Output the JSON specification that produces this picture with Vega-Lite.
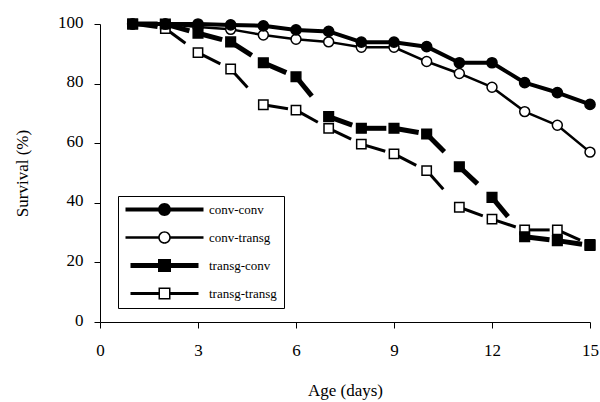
{
  "$schema": "https://vega.github.io/schema/vega-lite/v6.json",
  "width": 490,
  "height": 298,
  "autosize": {"type": "none"},
  "padding": {"left": 100, "top": 24, "right": 10, "bottom": 80},
  "background": "white",
  "config": {
    "view": {"stroke": null},
    "font": "Liberation Serif",
    "axis": {
      "grid": false, "domainColor": "black", "tickColor": "black", "labelColor": "black", "titleColor": "black",
      "labelFont": "Liberation Serif", "titleFont": "Liberation Serif", "labelFontSize": 17, "titleFontSize": 17,
      "titleFontWeight": "normal", "tickSize": 6, "domainWidth": 1, "tickWidth": 1
    }
  },
  "data": {"values": [
    {"series": "transg-transg", "day": 1, "survival": 100},
    {"series": "transg-transg", "day": 2, "survival": 98.5},
    {"series": "transg-transg", "day": 3, "survival": 90.4},
    {"series": "transg-transg", "day": 4, "survival": 84.9},
    {"series": "transg-transg", "day": 5, "survival": 72.9},
    {"series": "transg-transg", "day": 6, "survival": 71.1},
    {"series": "transg-transg", "day": 7, "survival": 65},
    {"series": "transg-transg", "day": 8, "survival": 59.7},
    {"series": "transg-transg", "day": 9, "survival": 56.4},
    {"series": "transg-transg", "day": 10, "survival": 50.8},
    {"series": "transg-transg", "day": 11, "survival": 38.5},
    {"series": "transg-transg", "day": 12, "survival": 34.5},
    {"series": "transg-transg", "day": 13, "survival": 30.9},
    {"series": "transg-transg", "day": 14, "survival": 30.9},
    {"series": "transg-transg", "day": 15, "survival": 26},
    {"series": "conv-transg", "day": 1, "survival": 100},
    {"series": "conv-transg", "day": 2, "survival": 100},
    {"series": "conv-transg", "day": 3, "survival": 99},
    {"series": "conv-transg", "day": 4, "survival": 98.2},
    {"series": "conv-transg", "day": 5, "survival": 96.3},
    {"series": "conv-transg", "day": 6, "survival": 94.9},
    {"series": "conv-transg", "day": 7, "survival": 94},
    {"series": "conv-transg", "day": 8, "survival": 92.2},
    {"series": "conv-transg", "day": 9, "survival": 92.2},
    {"series": "conv-transg", "day": 10, "survival": 87.4},
    {"series": "conv-transg", "day": 11, "survival": 83.4},
    {"series": "conv-transg", "day": 12, "survival": 78.8},
    {"series": "conv-transg", "day": 13, "survival": 70.6},
    {"series": "conv-transg", "day": 14, "survival": 66},
    {"series": "conv-transg", "day": 15, "survival": 57},
    {"series": "transg-conv", "day": 1, "survival": 100},
    {"series": "transg-conv", "day": 2, "survival": 100},
    {"series": "transg-conv", "day": 3, "survival": 96.9},
    {"series": "transg-conv", "day": 4, "survival": 94},
    {"series": "transg-conv", "day": 5, "survival": 87},
    {"series": "transg-conv", "day": 6, "survival": 82.3},
    {"series": "transg-conv", "day": 7, "survival": 68.9},
    {"series": "transg-conv", "day": 8, "survival": 65},
    {"series": "transg-conv", "day": 9, "survival": 65},
    {"series": "transg-conv", "day": 10, "survival": 63.1},
    {"series": "transg-conv", "day": 11, "survival": 52.1},
    {"series": "transg-conv", "day": 12, "survival": 41.8},
    {"series": "transg-conv", "day": 13, "survival": 28.6},
    {"series": "transg-conv", "day": 14, "survival": 27.3},
    {"series": "transg-conv", "day": 15, "survival": 25.7},
    {"series": "conv-conv", "day": 1, "survival": 100},
    {"series": "conv-conv", "day": 2, "survival": 100},
    {"series": "conv-conv", "day": 3, "survival": 100},
    {"series": "conv-conv", "day": 4, "survival": 99.7},
    {"series": "conv-conv", "day": 5, "survival": 99.4},
    {"series": "conv-conv", "day": 6, "survival": 98},
    {"series": "conv-conv", "day": 7, "survival": 97.5},
    {"series": "conv-conv", "day": 8, "survival": 93.9},
    {"series": "conv-conv", "day": 9, "survival": 93.9},
    {"series": "conv-conv", "day": 10, "survival": 92.4},
    {"series": "conv-conv", "day": 11, "survival": 87},
    {"series": "conv-conv", "day": 12, "survival": 87},
    {"series": "conv-conv", "day": 13, "survival": 80.3},
    {"series": "conv-conv", "day": 14, "survival": 77},
    {"series": "conv-conv", "day": 15, "survival": 73}
  ]},
  "encoding": {
    "x": {
      "field": "day", "type": "quantitative",
      "scale": {"domain": [0, 15], "nice": false, "zero": false},
      "axis": {"values": [0, 3, 6, 9, 12, 15], "title": "Age (days)", "labelPadding": 14, "labelFlush": false,
               "titleX": 245, "titleY": 73, "titleBaseline": "alphabetic", "titleAnchor": "middle"}
    },
    "y": {
      "field": "survival", "type": "quantitative",
      "scale": {"domain": [0, 100], "nice": false},
      "axis": {"values": [0, 20, 40, 60, 80, 100], "title": "Survival (%)", "labelPadding": 11, "labelOffset": -2,
               "titleX": -78, "titleY": 149, "titleAngle": -90, "titleAlign": "center", "titleBaseline": "middle", "titleAnchor": "middle"}
    }
  },
  "layer": [
    {
      "transform": [{"filter": "datum.series == 'conv-transg'"}],
      "mark": {"type": "line", "color": "black", "strokeWidth": 2.5, "strokeJoin": "round"}
    },
    {
      "transform": [{"filter": "datum.series == 'conv-conv'"}],
      "mark": {"type": "line", "color": "black", "strokeWidth": 4, "strokeJoin": "round"}
    },
    {
      "transform": [
        {"filter": "datum.series == 'transg-transg'"},
        {"window": [{"op": "lead", "field": "day", "as": "day2"}, {"op": "lead", "field": "survival", "as": "surv2"}], "sort": [{"field": "day"}]},
        {"filter": "datum.day2 != null"}
      ],
      "mark": {"type": "rule", "color": "black", "strokeWidth": 3, "strokeDash": [25, 1000], "strokeCap": "butt"},
      "encoding": {"x2": {"field": "day2"}, "y2": {"field": "surv2"}}
    },
    {
      "transform": [
        {"filter": "datum.series == 'transg-conv'"},
        {"window": [{"op": "lead", "field": "day", "as": "day2"}, {"op": "lead", "field": "survival", "as": "surv2"}], "sort": [{"field": "day"}]},
        {"filter": "datum.day2 != null"}
      ],
      "mark": {"type": "rule", "color": "black", "strokeWidth": 5, "strokeDash": [25, 1000], "strokeCap": "butt"},
      "encoding": {"x2": {"field": "day2"}, "y2": {"field": "surv2"}}
    },
    {
      "mark": {"type": "point", "filled": true, "stroke": "black", "strokeWidth": 1.5, "opacity": 1},
      "encoding": {
        "shape": {"field": "series", "type": "nominal", "legend": null,
                  "scale": {"domain": ["conv-conv", "conv-transg", "transg-conv", "transg-transg"], "range": ["circle", "circle", "square", "square"]}},
        "fill": {"field": "series", "type": "nominal", "legend": null,
                 "scale": {"domain": ["conv-conv", "conv-transg", "transg-conv", "transg-transg"], "range": ["black", "white", "black", "white"]}},
        "size": {"field": "series", "type": "nominal", "legend": null,
                 "scale": {"domain": ["conv-conv", "conv-transg", "transg-conv", "transg-transg"], "range": [104, 87, 144, 110]}}
      }
    },
    {
      "mark": {"type": "point", "filled": true, "color": "black", "opacity": 0},
      "encoding": {
        "shape": {"field": "series", "type": "nominal",
                  "scale": {"domain": ["conv-conv", "conv-transg", "transg-conv", "transg-transg"],
                            "range": [
                              "M-39,-2H39V2H-39Z M6.5,0A6.5,6.5,0,1,1,-6.5,0A6.5,6.5,0,1,1,6.5,0Z",
                              "M-39,-1.25H-5.5V1.25H-39Z M5.5,-1.25H39V1.25H5.5Z M6.3,0A6.3,6.3,0,1,1,-6.3,0A6.3,6.3,0,1,1,6.3,0Z M4.7,0A4.7,4.7,0,1,0,-4.7,0A4.7,4.7,0,1,0,4.7,0Z",
                              "M-34,-2.5H34V2.5H-34Z M-6.5,-6.5H6.5V6.5H-6.5Z",
                              "M-34,-1.5H-5.5V1.5H-34Z M5.5,-1.5H34V1.5H5.5Z M-6,-6H6V6H-6Z M-4.5,-4.5V4.5H4.5V-4.5Z"
                            ]},
                  "legend": {"title": null, "orient": "none", "legendX": 18, "legendY": 172, "strokeColor": "black", "padding": 7,
                             "symbolSize": 4, "symbolStrokeWidth": 0, "symbolStrokeColor": "transparent", "symbolFillColor": "black", "symbolOpacity": 1,
                             "symbolOffset": 33, "labelOffset": 38,
                             "labelFont": "Liberation Serif", "labelFontSize": 13, "labelColor": "black", "rowPadding": 14}}
      }
    }
  ],
  "resolve": {"scale": {"shape": "independent", "fill": "independent", "size": "independent"}}
}
